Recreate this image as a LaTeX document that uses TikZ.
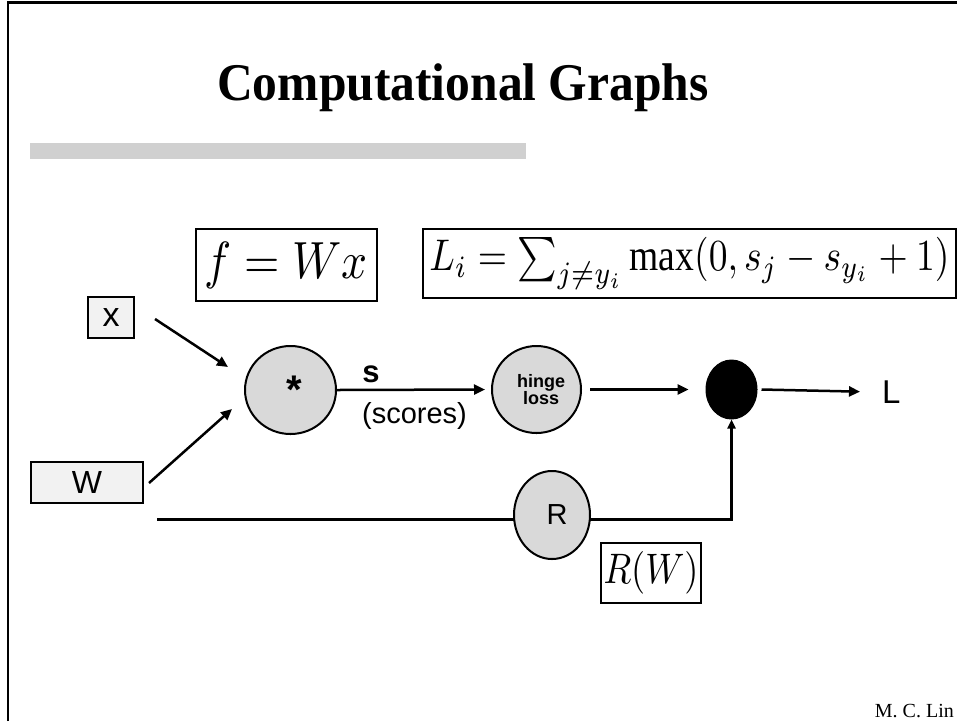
\documentclass[tikz,border=0pt]{standalone}
\usepackage{fontspec}
\setmainfont{Liberation Serif}
\setsansfont{Liberation Sans}
\usepackage{graphicx}
\usetikzlibrary{shapes.geometric,arrows.meta}
\pgfdeclarelayer{background}
\pgfsetlayers{background,main}
\definecolor{nodegray}{HTML}{D9D9D9}
\definecolor{boxgray}{HTML}{F2F2F2}
\definecolor{bargray}{HTML}{D0D0D0}
\tikzset{
  arr/.style={line width=2.5pt, -{Triangle[length=11pt,width=10pt]}},
  wire/.style={line width=2.5pt},
  opnode/.style={ellipse, draw, line width=2pt, fill=nodegray, inner sep=0pt},
  inbox/.style={rectangle, draw, line width=2pt, fill=boxgray, inner sep=0pt},
  eqbox/.style={rectangle, draw, line width=2.2pt, fill=white, inner sep=0pt},
  lbl/.style={inner sep=0pt, font=\sffamily\fontsize{29}{29}\selectfont},
}
\begin{document}
\begin{tikzpicture}[x=1pt,y=-1pt]
\useasboundingbox (0,0) rectangle (957,721);
% frame
\draw[line width=2.6pt] (8,721) -- (8,2.5) -- (957,2.5);
% title and bar
\node[anchor=base west, inner sep=0pt] (title) at (217,100)
  {\scalebox{0.935}[1]{\fontsize{53}{60}\selectfont\bfseries Computational Graphs}};
\fill[bargray] (30,143) rectangle (526,159);
% equations
\node[eqbox, minimum width=181pt, minimum height=72pt] (feq) at (286.5,265)
  {\scalebox{1}[1.15]{\resizebox{163pt}{!}{$f=Wx$}}};
\node[eqbox, minimum width=533pt, minimum height=69pt] (leq) at (689.5,263.5)
  {\scalebox{1}[1.18]{\resizebox{520pt}{!}{$L_i=\sum_{j\neq y_i}\max(0,s_j-s_{y_i}+1)$}}};
\node[eqbox, minimum width=100pt, minimum height=60pt] (req) at (651,573)
  {\scalebox{1}[1.18]{\resizebox{95pt}{!}{$R(W)$}}};
% inputs
\node[inbox, minimum width=46pt, minimum height=41pt,
  font=\sffamily\fontsize{34}{34}\selectfont] (xin) at (111,317.5) {x};
\node[inbox, minimum width=112pt, minimum height=41pt,
  font=\sffamily\fontsize{32}{32}\selectfont] (Win) at (87,482.5) {W};
% operation nodes
\node[opnode, minimum width=91pt, minimum height=88pt,
  font=\sffamily\bfseries\fontsize{40}{40}\selectfont] (mul) at (290.5,390) {\hspace{7pt}*};
\node[opnode, minimum width=89pt, minimum height=87pt, align=center,
  font=\sffamily\bfseries\fontsize{18}{15}\selectfont] (hinge) at (536.5,389.5) {\hspace{9pt}hinge\\\hspace{9pt}loss};
\node[ellipse, fill=black, draw, line width=1pt, minimum width=51pt, minimum height=59pt, inner sep=0pt] (blk) at (731.5,389.5) {};
\node[opnode, minimum width=76pt, minimum height=88pt,
  font=\sffamily\fontsize{29}{29}\selectfont] (Rn) at (552,515) {\hspace{10pt}R};
% labels
\node[lbl, anchor=base, font=\sffamily\bfseries\fontsize{31}{31}\selectfont] (slbl) at (371,382) {s};
\node[lbl, anchor=base] (scores) at (414.5,423) {(scores)};
\node[lbl, anchor=base west, font=\sffamily\fontsize{33}{33}\selectfont] (Lout) at (882,403) {L};
\node[anchor=base east, inner sep=0pt, font=\fontsize{20}{24}\selectfont] (author) at (954,717) {M. C. Lin};
% connectors
\coordinate (xa) at (155,319);
\coordinate (xb) at (228,367);
\coordinate (wa) at (149,483);
\coordinate (wb) at (232,409);
\coordinate (wstart) at (157,519.5);
\coordinate (wcorner) at (731.5,519.5);
\draw[arr] (xa) -- (xb);
\draw[arr] (wa) -- (wb);
\draw[arr] (mul.east) -- ([xshift=-6pt]hinge.west);
\draw[arr] ([xshift=8pt]hinge.east) -- ([xshift=-17pt]blk.west);
\draw[arr] ([xshift=4pt]blk.east) -- ([xshift=-22pt]Lout.west);
\begin{pgfonlayer}{background}
\draw[wire, -{Triangle[length=9pt,width=8pt]}] (wstart) -- (wcorner) -- (blk.south);
\end{pgfonlayer}
\end{tikzpicture}
\end{document}
